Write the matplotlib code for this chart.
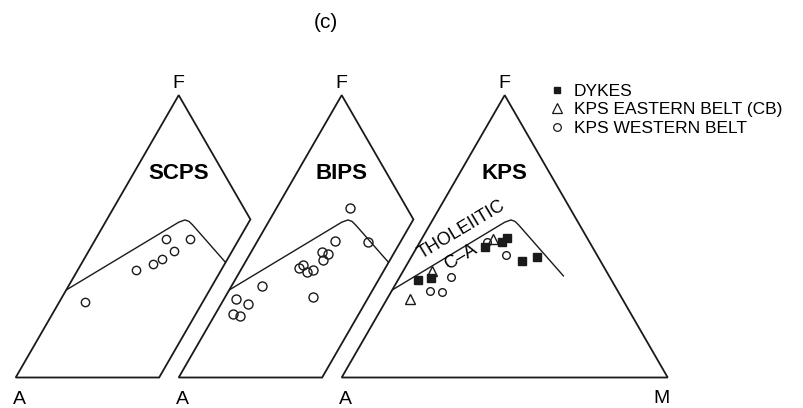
import numpy as np
import matplotlib.pyplot as plt
from matplotlib.patches import Polygon
from matplotlib.lines import Line2D

plt.rcParams['font.family'] = ['Liberation Sans', 'DejaVu Sans']

# AFM compositions, in % (A = 100 - F - M)
scps_F = [48.9, 48.9, 44.9, 41.9, 40.1, 38.2, 26.6]
scps_M = [21.8, 29.0, 26.1, 24.0, 22.0, 17.8, 7.9]

bips_F = [59.9, 48.1, 48.5, 44.3, 43.9, 41.6, 39.8, 38.9,
          37.3, 38.1, 32.4, 28.6, 27.8, 26.1, 22.5, 21.9]
bips_M = [22.7, 34.1, 23.7, 21.7, 24.0, 23.6, 18.3, 17.5,
          20.6, 22.0, 9.2, 26.9, 3.7, 8.3, 5.3, 8.0]

dykes_F = [34.5, 35.1, 46.3, 48.1, 49.5, 41.2, 42.8]
dykes_M = [6.3, 9.8, 20.9, 25.2, 25.9, 34.8, 38.6]

kps_east_F = [37.8, 27.8, 48.9]
kps_east_M = [8.8, 6.9, 22.0]

kps_west_F = [48.1, 43.4, 35.5, 30.7, 30.4]
kps_west_M = [20.5, 28.7, 15.8, 11.8, 15.5]

# tholeiitic / calc-alkaline divide
boundary_F = [31.0, 55.0, 55.8, 55.3, 54.0, 36.0]
boundary_M = [0.0, 22.5, 24.0, 25.5, 27.3, 50.0]

H = np.sqrt(3) / 2
CUT = 0.44          # where the hidden panels are cut off along the base
INK = '#1a1a1a'


def afm_xy(F, M):
    F = np.asarray(F, dtype=float) / 100.0
    M = np.asarray(M, dtype=float) / 100.0
    return M + F / 2, F * H


def draw_panel(ax, x0, name, clipped):
    if clipped:
        s = 1 - CUT
        verts = [(0, 0), (CUT, 0), (CUT + s / 2, s * H), (0.5, H)]
    else:
        verts = [(0, 0), (1, 0), (0.5, H)]
    verts = [(x0 + x, y) for x, y in verts]
    tri = Polygon(verts, closed=True, fill=False, ec=INK, lw=1.3,
                  joinstyle='miter', zorder=2)
    ax.add_patch(tri)

    bx, by = afm_xy(boundary_F, boundary_M)
    line, = ax.plot(bx + x0, by, color=INK, lw=1.0, zorder=2,
                    solid_joinstyle='round')
    line.set_clip_path(tri)

    ax.text(x0 + 0.5, 0.903, 'F', ha='center', va='center', fontsize=14)
    ax.text(x0 + 0.012, -0.069, 'A', ha='center', va='center', fontsize=14)
    ax.text(x0 + 0.5, 0.626, name, ha='center', va='center', fontsize=16,
            fontweight='bold')


fig = plt.figure(figsize=(8.04, 4.08), dpi=100)
ax = fig.add_axes([0, 0, 1, 1])
ax.set_xlim(-15.7 / 326, (804 - 15.7) / 326)
ax.set_ylim(-30.5 / 326, 377.5 / 326)
ax.set_aspect('equal')
ax.axis('off')

draw_panel(ax, 0.0, 'SCPS', True)
draw_panel(ax, 0.5, 'BIPS', True)
draw_panel(ax, 1.0, 'KPS', False)
ax.text(1.982, -0.063, 'M', ha='center', va='center', fontsize=14)

circ = dict(marker='o', ls='none', mfc='none', mec=INK, mew=1.0, zorder=3)

x, y = afm_xy(scps_F, scps_M)
ax.plot(x, y, ms=6.0, **circ)

x, y = afm_xy(bips_F, bips_M)
ax.plot(x + 0.5, y, ms=6.5, **circ)

x, y = afm_xy(kps_west_F, kps_west_M)
ax.plot(x + 1.0, y, ms=5.5, **circ)

x, y = afm_xy(kps_east_F, kps_east_M)
ax.plot(x + 1.0, y, marker='^', ls='none', mfc='none', mec=INK, mew=1.0,
        ms=7, zorder=3)

x, y = afm_xy(dykes_F, dykes_M)
ax.plot(x + 1.0, y, marker='s', ls='none', color=INK, ms=5.5, zorder=3)

ax.text(1.3687, 0.452, 'THOLEIITIC', ha='center', va='center', fontsize=13,
        rotation=31)
ax.text(1.3656, 0.369, 'C\u2013A', ha='center', va='center', fontsize=13,
        rotation=31)

ax.text(0.952, 1.088, '(c)', ha='center', va='center', fontsize=15)

handles = [
    Line2D([], [], marker='s', ls='none', color=INK, ms=5),
    Line2D([], [], marker='^', ls='none', mfc='none', mec=INK, mew=0.9, ms=7.5),
    Line2D([], [], marker='o', ls='none', mfc='none', mec=INK, mew=0.9, ms=5.5),
]
labels = ['DYKES', 'KPS EASTERN BELT (CB)', 'KPS WESTERN BELT']
ax.legend(handles, labels, loc='upper left', bbox_to_anchor=(0.684, 0.795),
          frameon=False, fontsize=12.5, handlelength=0.8, handletextpad=0.57,
          labelspacing=0.2, borderaxespad=0, borderpad=0)

fig.savefig('out.png', dpi=100, facecolor='white')
